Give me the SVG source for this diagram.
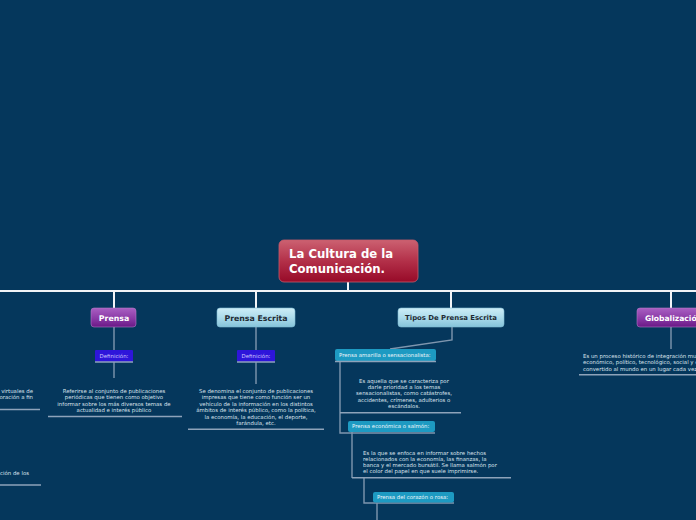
<svg xmlns="http://www.w3.org/2000/svg" width="696" height="520" viewBox="0 0 696 520">
<defs>
<linearGradient id="gRed" x1="0" y1="0" x2="0" y2="1"><stop offset="0" stop-color="#cc6171"/><stop offset="0.5" stop-color="#b33049"/><stop offset="1" stop-color="#970a28"/></linearGradient>
<linearGradient id="gPur" x1="0" y1="0" x2="0" y2="1"><stop offset="0" stop-color="#a95fc2"/><stop offset="0.55" stop-color="#8a3aa6"/><stop offset="1" stop-color="#6a1886"/></linearGradient>
<linearGradient id="gBlue" x1="0" y1="0" x2="0" y2="1"><stop offset="0" stop-color="#cdedf7"/><stop offset="0.5" stop-color="#acdbeb"/><stop offset="1" stop-color="#85c3da"/></linearGradient>
</defs>
<style>
text{font-family:"DejaVu Sans","Liberation Sans",sans-serif}
.t{font-size:5.4px;fill:#dbe3ec}
.m{text-anchor:middle}
.ul{stroke:#8ea3ba;stroke-width:1.4;fill:none}
.cn{stroke:#7f96ae;stroke-width:1.4;fill:none}
.wh{stroke:#f2f4f7;stroke-width:2;fill:none}
.def{fill:#2e15da}
.teal{fill:#1d9ac2}
.dt{font-size:5.4px;fill:#cfc8ff}
.tt{font-size:5.4px;fill:#eef6fa}
</style>
<rect width="696" height="520" fill="#05375c"/>
<g id="connectors">
<path class="wh" d="M0 291H696M348 282V291M114 291V308M256 291V308M451 291V308M671 291V308"/>
<path class="cn" d="M114 327V350M114 362V378M256 327V350M256 362V384M452 327V340L390 349M671 327V349"/>
<path class="cn" d="M340 361V433H435M352 432V478M364 478V503H454M377 503V520"/>
</g>
<g id="central">
<rect x="279" y="240" width="139" height="42" rx="5" fill="url(#gRed)" stroke="#c65a6b" stroke-width="0.8"/>
<text x="289" y="258" font-size="11.7" font-weight="bold" fill="#ffffff">La Cultura de la</text>
<text x="289" y="273" font-size="11.7" font-weight="bold" fill="#ffffff">Comunicación.</text>
</g>
<g id="prensa">
<rect x="91" y="308" width="45" height="19" rx="3" fill="url(#gPur)" stroke="#b27ac6" stroke-width="0.6"/>
<text x="114" y="320.8" font-size="7.8" font-weight="bold" fill="#ffffff" class="m">Prensa</text>
</g>
<g id="prensa-def">
<rect x="95" y="350" width="38" height="12" rx="1" class="def"/>
<path class="ul" d="M95 362H133"/>
<text x="114" y="358" class="dt m">Definición:</text>
</g>
<g id="prensa-text">
<text class="t m" x="114" y="393">Referirse al conjunto de publicaciones</text>
<text class="t m" x="114" y="399.3">periódicas que tienen como objetivo</text>
<text class="t m" x="114" y="405.6">informar sobre los más diversos temas de</text>
<text class="t m" x="114" y="411.9">actualidad e interés público</text>
<path class="ul" d="M48 416.5H182"/>
</g>
<g id="prensa-escrita">
<rect x="217" y="308" width="78" height="19" rx="3" fill="url(#gBlue)" stroke="#7fbcd3" stroke-width="0.6"/>
<text x="256" y="320.8" font-size="7.8" font-weight="bold" fill="#1e2a33" class="m">Prensa Escrita</text>
</g>
<g id="escrita-def">
<rect x="237" y="350" width="38" height="12" rx="1" class="def"/>
<path class="ul" d="M237 362H275"/>
<text x="256" y="358" class="dt m">Definición:</text>
</g>
<g id="escrita-text">
<text class="t m" x="256" y="392.6">Se denomina el conjunto de publicaciones</text>
<text class="t m" x="256" y="399.2">impresas que tiene como función ser un</text>
<text class="t m" x="256" y="405.8">vehículo de la información en los distintos</text>
<text class="t m" x="256" y="412.4">ámbitos de interés público, como la política,</text>
<text class="t m" x="256" y="419">la economía, la educación, el deporte,</text>
<text class="t m" x="256" y="425.4">farándula, etc.</text>
<path class="ul" d="M188 429.3H324"/>
</g>
<g id="tipos">
<rect x="398" y="308" width="106" height="19" rx="3" fill="url(#gBlue)" stroke="#7fbcd3" stroke-width="0.6"/>
<text x="451" y="320.3" font-size="6.9" font-weight="bold" fill="#1e2a33" class="m">Tipos De Prensa Escrita</text>
</g>
<g id="amarilla">
<rect x="335" y="349" width="101" height="12" rx="2" class="teal"/>
<path class="ul" d="M335 361.5H436"/>
<text x="339" y="357.2" class="tt">Prensa amarilla o sensacionalista:</text>
</g>
<g id="amarilla-text">
<text class="t m" x="404" y="382.6">Es aquella que se caracteriza por</text>
<text class="t m" x="404" y="389">darle prioridad a los temas</text>
<text class="t m" x="404" y="395.4">sensacionalistas, como catástrofes,</text>
<text class="t m" x="404" y="401.8">accidentes, crímenes, adulterios o</text>
<text class="t m" x="404" y="408.2">escándalos.</text>
<path class="ul" d="M340 412.7H461"/>
</g>
<g id="economica">
<rect x="348" y="421" width="87" height="11" rx="2" class="teal"/>
<text x="352" y="428.4" class="tt">Prensa económica o salmón:</text>
</g>
<g id="economica-text">
<text class="t" x="363" y="454.5">Es la que se enfoca en informar sobre hechos</text>
<text class="t" x="363" y="460.8">relacionados con la economía, las finanzas, la</text>
<text class="t" x="363" y="467.1">banca y el mercado bursátil. Se llama salmón por</text>
<text class="t" x="363" y="473.4">el color del papel en que suele imprimirse.</text>
<path class="ul" d="M352 477.7H511"/>
</g>
<g id="corazon">
<rect x="373" y="492" width="81" height="10.5" rx="2" class="teal"/>
<text x="377" y="499.2" class="tt">Prensa del corazón o rosa:</text>
</g>
<g id="globalizacion">
<rect x="637" y="308" width="80" height="19" rx="3" fill="url(#gPur)" stroke="#b27ac6" stroke-width="0.6"/>
<text x="645" y="320.5" font-size="7.6" font-weight="bold" fill="#ffffff">Globalización</text>
</g>
<g id="globalizacion-text">
<text class="t" x="583" y="357.6">Es un proceso histórico de integración mundial</text>
<text class="t" x="583" y="364">económico, político, tecnológico, social y cultural</text>
<text class="t" x="583" y="370.5">convertido al mundo en un lugar cada vez más</text>
<path class="ul" d="M579 374.7H696"/>
</g>
<g id="left-texts">
<text class="t" x="33" y="393" text-anchor="end">los entornos virtuales de</text>
<text class="t" x="33" y="399.3" text-anchor="end">y su colaboración a fin</text>
<path class="ul" d="M0 409.5H40"/>
<text class="t" x="29" y="474.8" text-anchor="end">y la comunicación de los</text>
<path class="ul" d="M0 485H41"/>
</g>
</svg>
